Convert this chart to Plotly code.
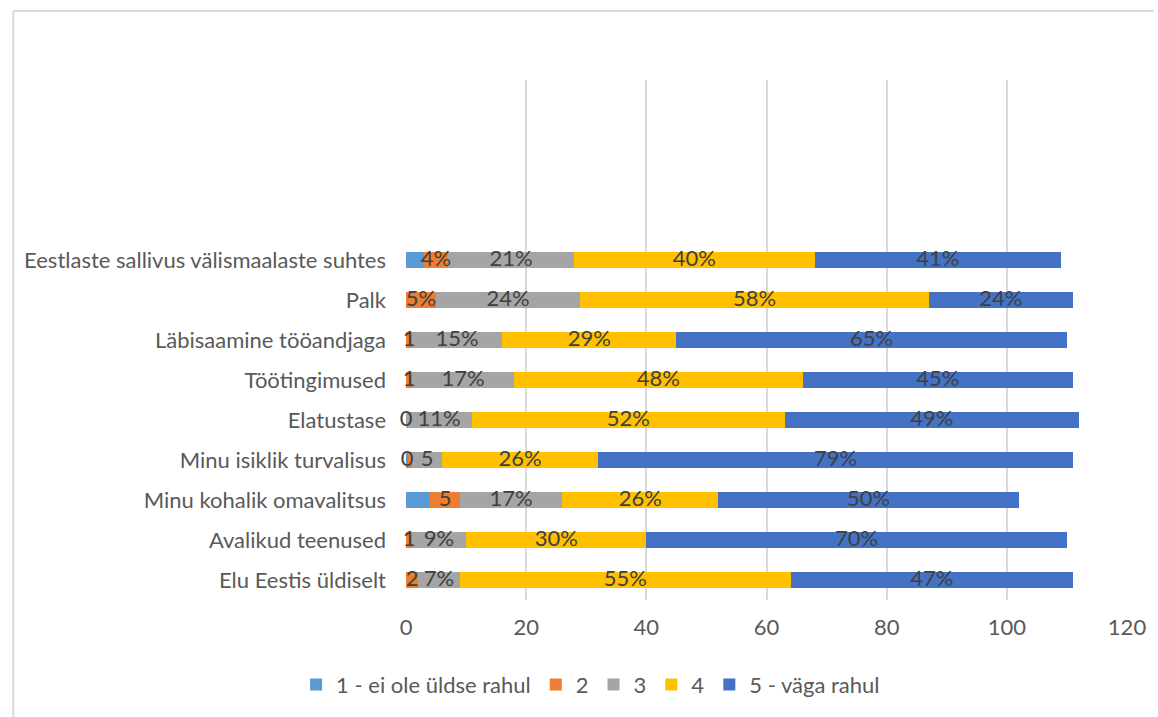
import plotly.graph_objects as go

categories = [
    "Elu Eestis üldiselt",
    "Avalikud teenused",
    "Minu kohalik omavalitsus",
    "Minu isiklik turvalisus",
    "Elatustase",
    "Töötingimused",
    "Läbisaamine tööandjaga",
    "Palk",
    "Eestlaste sallivus välismaalaste suhtes",
]

series_names = ["1 - ei ole üldse rahul", "2", "3", "4", "5 - väga rahul"]

s1 = [0, 0, 4, 0.4, 0, 0, 0, 0, 3]
s2 = [2, 1, 5, 0.6, 0, 1, 1, 5, 4]
s3 = [7, 9, 17, 5, 11, 17, 15, 24, 21]
s4 = [55, 30, 26, 26, 52, 48, 29, 58, 40]
s5 = [47, 70, 50, 79, 49, 45, 65, 24, 41]

t1 = ["", "", "", "0", "", "", "", "", ""]
t2 = ["2", "1", "5", "", "0", "1", "1", "5%", "4%"]
t3 = ["7%", "9%", "17%", "5", "11%", "17%", "15%", "24%", "21%"]
t4 = ["55%", "30%", "26%", "26%", "52%", "48%", "29%", "58%", "40%"]
t5 = ["47%", "70%", "50%", "79%", "49%", "45%", "65%", "24%", "41%"]

colors = ["#5B9BD5", "#ED7D31", "#A5A5A5", "#FFC000", "#4472C4"]

values = [s1, s2, s3, s4, s5]
texts = [t1, t2, t3, t4, t5]

FONT = "Lato, Open Sans, sans-serif"
FS = 22

fig = go.Figure()
for name, vals, col in zip(series_names, values, colors):
    fig.add_trace(go.Bar(
        y=categories, x=vals, name=name, orientation="h",
        marker=dict(color=col, line=dict(width=0)),
        hoverinfo="x+name",
    ))

# data labels at segment centres
cum = [0.0] * len(categories)
for vals, txt in zip(values, texts):
    centers = [c + v / 2 for c, v in zip(cum, vals)]
    fig.add_trace(go.Scatter(
        x=centers, y=categories, mode="text", text=txt,
        textfont=dict(family=FONT, size=FS, color="#404040"),
        showlegend=False, hoverinfo="skip", cliponaxis=False,
    ))
    cum = [c + v for c, v in zip(cum, vals)]

fig.update_layout(
    barmode="stack",
    bargap=0.6,
    width=1158, height=717,
    margin=dict(l=406, r=25, t=80, b=117),
    paper_bgcolor="white", plot_bgcolor="white",
    font=dict(family=FONT, size=FS, color="#595959"),
    legend=dict(
        orientation="h", xref="container", x=0.51, xanchor="center",
        yref="container", y=0.045, yanchor="middle",
        traceorder="normal", font=dict(size=FS, color="#595959"),
        itemwidth=30,
    ),
    shapes=[
        dict(type="line", xref="paper", yref="paper",
             x0=(10 - 406) / 727, x1=(10 - 406) / 727,
             y0=(600 - 11) / 520, y1=(600 - 720) / 520,
             line=dict(color="#d9d9d9", width=2)),
        dict(type="line", xref="paper", yref="paper",
             x0=(10 - 406) / 727, x1=(1160 - 406) / 727,
             y0=(600 - 11) / 520, y1=(600 - 11) / 520,
             line=dict(color="#d9d9d9", width=2)),
    ],
)

fig.update_xaxes(
    range=[0, 120], dtick=20, tick0=0,
    showgrid=True, gridcolor="#d9d9d9", gridwidth=2,
    zeroline=False, showline=False, ticks="", ticklabelstandoff=12,
    tickfont=dict(size=FS, color="#595959"),
)
fig.update_yaxes(
    type="category", categoryorder="array", categoryarray=categories,
    range=[-0.5, 12.5], showgrid=False, zeroline=False, showline=False,
    ticks="", ticklabelstandoff=19,
    tickfont=dict(size=FS, color="#595959"),
)

fig.write_html(
    "out.html",
    config={"displayModeBar": False},
    post_script="document.body.style.margin='0';document.body.style.overflow='hidden';",
)
